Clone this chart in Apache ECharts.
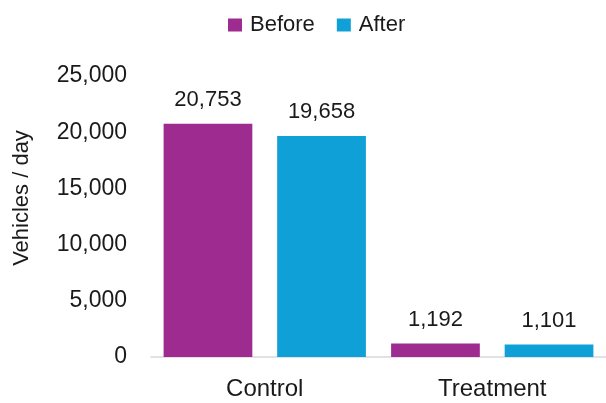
<!DOCTYPE html>
<html>
<head>
<meta charset="utf-8">
<script src="https://cdn.jsdelivr.net/npm/echarts@6/dist/echarts.min.js"></script>
<style>html,body{margin:0;padding:0;background:#fff}#chart{width:606px;height:403px}</style>
</head>
<body>
<div id="chart"></div>
<script>
// Daily traffic volumes, before and after
const categories = ['Control', 'Treatment'];
const beforeValues = [20753, 1192];
const afterValues = [19658, 1101];
const seriesNames = ['Before', 'After'];
const yTitle = 'Vehicles / day';

const FONT = '"Liberation Sans", Arial, sans-serif';
const fmt = v => v.toLocaleString('en-US');

const chart = echarts.init(document.getElementById('chart'), null, { renderer: 'canvas' });
const labelStyle = {
  show: true,
  position: 'top',
  distance: 13,
  fontSize: 22,
  fontFamily: FONT,
  color: '#1a1a1a',
  formatter: p => fmt(p.value)
};
chart.setOption({
  animation: false,
  textStyle: { fontFamily: FONT },
  legend: {
    top: 9,
    left: 223,
    itemWidth: 14,
    itemHeight: 13,
    itemGap: 22,
    icon: 'rect',
    textStyle: { fontSize: 22, color: '#1a1a1a', fontFamily: FONT, padding: [0, 0, 0, 3] },
    data: seriesNames
  },
  // rotated y-axis title, placed a little above the plot's middle
  graphic: [{
    type: 'text',
    x: 22,
    y: 198,
    rotation: Math.PI / 2,
    style: {
      text: yTitle,
      font: '22px ' + FONT,
      fill: '#1a1a1a',
      align: 'center',
      verticalAlign: 'middle'
    }
  }],
  grid: { left: 151, right: 0, top: 76, bottom: 46 },
  xAxis: {
    type: 'category',
    data: categories,
    axisLine: { lineStyle: { color: '#d9d9d9', width: 1.5 } },
    axisTick: { show: false },
    axisLabel: { fontSize: 24, color: '#1a1a1a', margin: 20, fontFamily: FONT }
  },
  yAxis: {
    type: 'value',
    min: 0,
    max: 25000,
    interval: 5000,
    axisLine: { show: false },
    axisTick: { show: false },
    splitLine: { show: false },
    axisLabel: { fontSize: 23, color: '#1a1a1a', margin: 24, fontFamily: FONT, formatter: v => fmt(v) }
  },
  series: [
    {
      name: seriesNames[0],
      type: 'bar',
      data: beforeValues,
      barWidth: '39%',
      barGap: '28%',
      itemStyle: { color: '#9e2b8f' },
      label: labelStyle
    },
    {
      name: seriesNames[1],
      type: 'bar',
      data: afterValues,
      barWidth: '39%',
      itemStyle: { color: '#10a0d8' },
      label: labelStyle
    }
  ]
});
</script>
</body>
</html>
